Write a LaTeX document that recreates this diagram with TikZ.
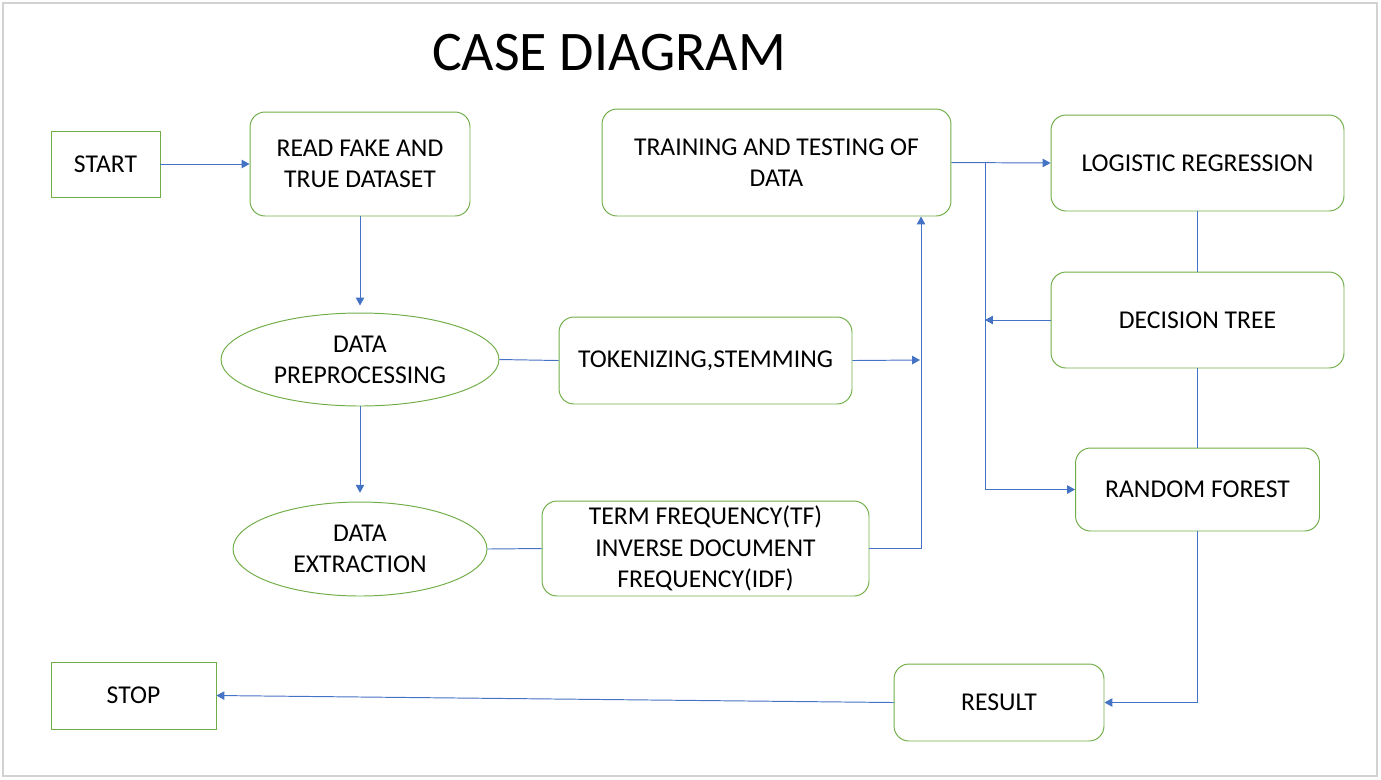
\documentclass[tikz,border=0pt]{standalone}
\usepackage{fontspec}
\setmainfont{Carlito}
\usetikzlibrary{shapes.geometric,arrows.meta}

\definecolor{boxgreen}{RGB}{112,173,71}
\definecolor{linkblue}{RGB}{68,114,196}

\tikzset{
  stepbox/.style={draw=boxgreen,line width=0.55pt,rectangle,align=center,
                  font=\fontsize{14.6}{17.8}\selectfont},
  roundbox/.style={stepbox,rounded corners=0.3cm},
  databox/.style={draw=boxgreen,line width=0.55pt,ellipse,inner sep=0pt,align=center,
                  font=\fontsize{14.6}{17.8}\selectfont},
  link/.style={draw=linkblue,line width=0.55pt}
}

\begin{document}
\begin{tikzpicture} [x=0.02cm,y=-0.02cm,>={Triangle[width=4.8pt,length=4.5pt]}]
                    \useasboundingbox (0,0) rectangle (1381,779);
                    \draw[gray!35,line width=1pt] (3,3) rectangle (1377,776);

                    % Title
                    \node[anchor=base,font=\fontsize{31.8}{38}\selectfont] (T) at (609,70) {CASE DIAGRAM};

                    % Nodes
                    \node[stepbox,minimum width=2.18cm,minimum height=1.32cm] (S) at (105.5,164) {START};
                    \node[roundbox,minimum width=4.4cm,minimum height=2.08cm] (RD) at (360,164) {READ FAKE AND\\TRUE DATASET};
                    \node[databox,minimum width=5.56cm,minimum height=1.86cm] (DP) at (360,359.5) {DATA\\PREPROCESSING};
                    \node[databox,minimum width=5.08cm,minimum height=1.88cm] (DE) at (360,549) {DATA\\EXTRACTION};
                    \node[roundbox,minimum width=5.86cm,minimum height=1.74cm] (TK) at (705.5,360.5) {TOKENIZING,STEMMING};
                    \node[roundbox,minimum width=6.54cm,minimum height=1.9cm,inner sep=1pt] (TF) at (705.5,548.5) {TERM FREQUENCY(TF)\\INVERSE DOCUMENT\\FREQUENCY(IDF)};
                    \node[roundbox,minimum width=6.98cm,minimum height=2.14cm] (TT) at (776.5,162.5) {TRAINING AND TESTING OF\\DATA};
                    \node[roundbox,minimum width=5.86cm,minimum height=1.92cm] (LR) at (1197.5,163) {LOGISTIC REGRESSION};
                    \node[roundbox,minimum width=5.86cm,minimum height=1.92cm] (DT) at (1197.5,320) {DECISION TREE};
                    \node[roundbox,minimum width=4.88cm,minimum height=1.66cm] (RF) at (1197.5,489.5) {RANDOM FOREST};
                    \node[roundbox,minimum width=4.2cm,minimum height=1.54cm] (RS) at (999,702.5) {RESULT};
                    \node[stepbox,minimum width=3.3cm,minimum height=1.34cm] (SP) at (133.5,695.5) {STOP};

                    % Joints
                    \coordinate (TKin) at (920,360);
                    \coordinate (TTin) at (921,216.5);
                    \coordinate (split) at (985,163);

                    % Arrows
                    \draw[link,->] (S.east) -- (RD.west);
                    \draw[link,->,shorten >=4pt] (RD.south) -- (DP.north);
                    \draw[link,->,shorten >=5pt] (DP.south) -- (DE.north);
                    \draw[link] (DP.east) -- (TK.west);
                    \draw[link] (DE.east) -- (TF.west);
                    \draw[link,->] (TK.east) -- (TKin);
                    \draw[link,->] (TF.east) -| (TTin);
                    \draw[link,->] (TT.east) -- (LR.west);
                    \draw[link,->] (split) |- (RF.west);
                    \draw[link,->] (DT.west) -- (DT.west -| split);
                    \draw[link] (LR.south) -- (DT.north);
                    \draw[link] (DT.south) -- (RF.north);
                    \draw[link,->] (RF.south) |- (RS.east);
                    \draw[link,->] (RS.west) -- (SP.east);
                \end{tikzpicture}
\end{document}
